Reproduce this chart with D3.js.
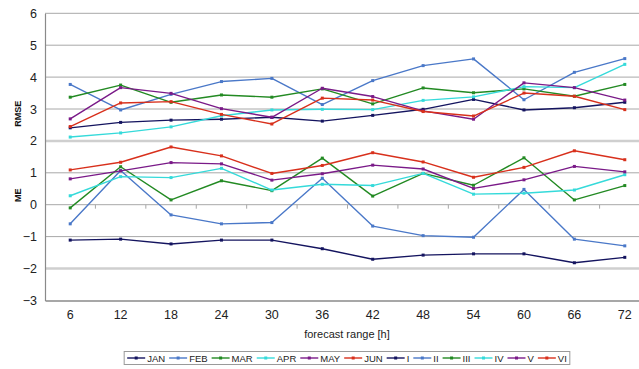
<!DOCTYPE html>
<html>
<head>
<meta charset="utf-8">
<script src="https://cdn.jsdelivr.net/npm/d3@7"></script>
<style>
  html, body { margin: 0; padding: 0; background: #fff; }
  svg { display: block; font-family: "Liberation Sans", Arial, sans-serif; }
</style>
</head>
<body>
<svg id="chart" width="639" height="369"></svg>
<script>
// Forecast lead times (hours)
const ranges = [6, 12, 18, 24, 30, 36, 42, 48, 54, 60, 66, 72];
const yTicks = [-3, -2, -1, 0, 1, 2, 3, 4, 5, 6];

// RMSE by month
const JAN = [2.41, 2.58, 2.65, 2.68, 2.74, 2.62, 2.80, 2.99, 3.30, 2.97, 3.04, 3.21];
const FEB = [3.77, 2.97, 3.46, 3.86, 3.96, 3.14, 3.89, 4.36, 4.57, 3.29, 4.15, 4.58];
const MAR = [3.37, 3.75, 3.21, 3.44, 3.37, 3.63, 3.16, 3.66, 3.51, 3.63, 3.40, 3.77];
const APR = [2.12, 2.25, 2.44, 2.79, 2.97, 2.99, 2.98, 3.27, 3.38, 3.70, 3.67, 4.40];
const MAY = [2.69, 3.67, 3.49, 3.01, 2.74, 3.65, 3.39, 2.94, 2.68, 3.82, 3.67, 3.28];
const JUN = [2.45, 3.19, 3.23, 2.83, 2.53, 3.34, 3.28, 2.92, 2.78, 3.50, 3.40, 2.98];

// ME by month
const M_I   = [-1.11, -1.08, -1.23, -1.11, -1.11, -1.38, -1.71, -1.58, -1.54, -1.54, -1.82, -1.65];
const M_II  = [-0.60, 1.07, -0.32, -0.60, -0.56, 0.83, -0.67, -0.97, -1.02, 0.48, -1.08, -1.29];
const M_III = [-0.10, 1.19, 0.15, 0.75, 0.44, 1.46, 0.27, 0.98, 0.61, 1.47, 0.15, 0.60];
const M_IV  = [0.28, 0.88, 0.85, 1.14, 0.46, 0.64, 0.60, 0.98, 0.33, 0.36, 0.46, 0.94];
const M_V   = [0.81, 1.06, 1.32, 1.28, 0.77, 0.97, 1.24, 1.12, 0.51, 0.78, 1.20, 1.03];
const M_VI  = [1.09, 1.33, 1.81, 1.53, 0.98, 1.23, 1.63, 1.34, 0.86, 1.17, 1.69, 1.41];

const seriesNames = ["JAN", "FEB", "MAR", "APR", "MAY", "JUN", "I", "II", "III", "IV", "V", "VI"];
const seriesValues = [JAN, FEB, MAR, APR, MAY, JUN, M_I, M_II, M_III, M_IV, M_V, M_VI];
const palette = ["#14145f", "#4a78c8", "#238a23", "#35dada", "#7a1a88", "#d8301c",
                 "#14145f", "#4a78c8", "#238a23", "#35dada", "#7a1a88", "#d8301c"];

const series = seriesNames.map((name, i) => ({ name, values: seriesValues[i], color: palette[i] }));

const svg = d3.select("#chart");
const plot = { left: 45, right: 650, top: 13.3, bottom: 300.4 };

const x = d3.scaleBand().domain(ranges).range([plot.left, plot.right]);
const y = d3.scaleLinear().domain([-3, 6]).range([plot.bottom, plot.top]);
const cx = d => x(d) + x.bandwidth() / 2;

// Horizontal gridlines
const grid = svg.append("g");
grid.selectAll("line").data(yTicks.filter(t => t > -3)).join("line")
  .attr("x1", plot.left).attr("x2", plot.right)
  .attr("y1", d => y(d)).attr("y2", d => y(d))
  .attr("stroke", d => Math.abs(d) === 2 ? "#cfcfcf" : "#a8a8a8")
  .attr("stroke-width", d => Math.abs(d) === 2 ? 2.5 : 1);

// Category ticks on the zero line
svg.append("g").selectAll("line").data(ranges.slice(1)).join("line")
  .attr("x1", d => x(d)).attr("x2", d => x(d))
  .attr("y1", y(0)).attr("y2", y(0) + 4)
  .attr("stroke", "#a8a8a8").attr("stroke-width", 1);

// Y axis
const yAxis = svg.append("g")
  .attr("transform", `translate(${plot.left},0)`)
  .call(d3.axisLeft(y).tickValues(yTicks).tickSize(0).tickPadding(8).tickFormat(d3.format("d")));
yAxis.select(".domain").attr("stroke", "#8a8a8a").attr("stroke-width", 1.2);
yAxis.selectAll("text").attr("font-size", 12.5).attr("fill", "#222")
  .attr("font-family", "'Liberation Sans', Arial, sans-serif");

// X axis along the bottom
const xAxis = svg.append("g")
  .attr("transform", `translate(0,${plot.bottom})`)
  .call(d3.axisBottom(x).tickSize(0).tickPadding(10));
xAxis.select(".domain").attr("stroke", "#8a8a8a").attr("stroke-width", 1.5);
xAxis.selectAll("text").attr("font-size", 12.5).attr("fill", "#222")
  .attr("font-family", "'Liberation Sans', Arial, sans-serif");

// Axis titles
svg.append("text").attr("x", 347).attr("y", 338).attr("text-anchor", "middle")
  .attr("font-size", 11).attr("fill", "#222").text("forecast range [h]");
svg.append("text").attr("transform", `translate(21,${y(2.85)}) rotate(-90)`)
  .attr("text-anchor", "middle").attr("font-size", 9).attr("font-weight", "bold")
  .attr("fill", "#111").text("RMSE");
svg.append("text").attr("transform", `translate(21,${y(0.3)}) rotate(-90)`)
  .attr("text-anchor", "middle").attr("font-size", 9).attr("font-weight", "bold")
  .attr("fill", "#111").text("ME");

// Series lines and markers
const line = d3.line().x((d, i) => cx(ranges[i])).y(d => y(d));
const marks = svg.append("g");
series.forEach(s => {
  const g = marks.append("g");
  g.append("path").attr("d", line(s.values)).attr("fill", "none")
    .attr("stroke", s.color).attr("stroke-width", 1.4).attr("stroke-linejoin", "round");
  g.selectAll("rect").data(s.values).join("rect")
    .attr("x", (d, i) => cx(ranges[i]) - 1.5).attr("y", d => y(d) - 1.5)
    .attr("width", 3).attr("height", 3).attr("fill", s.color);
});

// Legend
const legend = svg.append("g");
const items = legend.selectAll("g").data(series).join("g");
items.append("line").attr("x1", 0).attr("x2", 18).attr("y1", 0).attr("y2", 0)
  .attr("stroke", d => d.color).attr("stroke-width", 1.4);
items.append("rect").attr("x", 7.5).attr("y", -1.5).attr("width", 3).attr("height", 3)
  .attr("fill", d => d.color);
items.append("text").attr("x", 20).attr("y", 3.5).attr("font-size", 9.5).attr("fill", "#222")
  .text(d => d.name);
let off = 0;
const gap = 4;
items.each(function () {
  const w = d3.select(this).select("text").node().getComputedTextLength();
  d3.select(this).attr("data-off", off);
  off += 20 + w + gap;
});
const total = off - gap;
const lx = 347 - total / 2;
items.attr("transform", function () { return `translate(${lx + (+this.getAttribute("data-off"))},358)`; });
legend.insert("rect", ":first-child")
  .attr("x", lx - 3).attr("y", 351.5).attr("width", total + 6).attr("height", 13)
  .attr("fill", "#fff").attr("stroke", "#9a9a9a").attr("stroke-width", 1);
</script>
</body>
</html>
